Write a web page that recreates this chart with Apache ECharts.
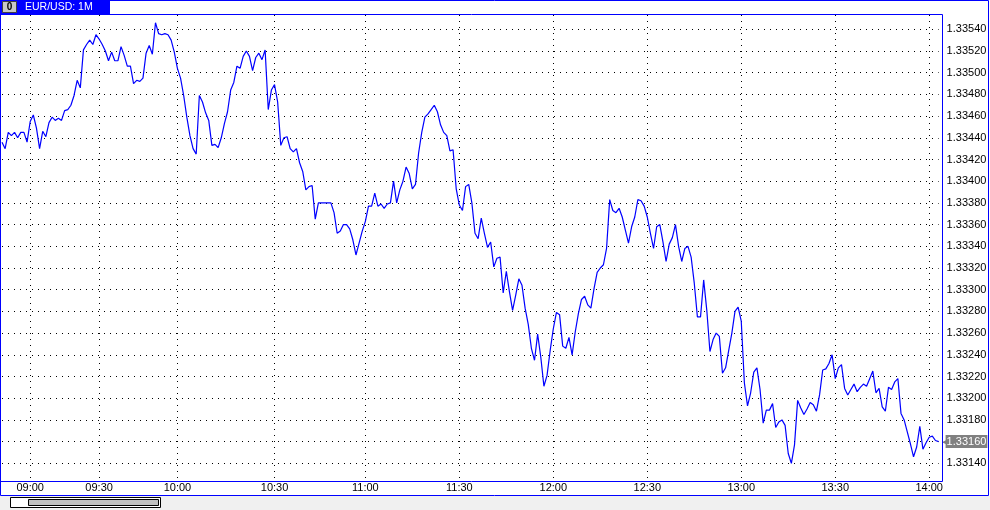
<!DOCTYPE html>
<html>
<head>
<meta charset="utf-8">
<script src="https://cdn.jsdelivr.net/npm/echarts@6.0.0/dist/echarts.min.js"></script>
<style>
  body { margin: 0; background: #fff; }
  #chart { width: 990px; height: 510px; }
</style>
</head>
<body>
<div id="chart"></div>
<script>
const symbolName = "EUR/USD: 1M";

// 1 minute closes, oldest first
const closesTo1000 = [
  1.33436, 1.33430, 1.33445, 1.33442, 1.33445, 1.33440, 1.33445, 1.33445, 1.33436, 1.33455,
  1.33461, 1.33449, 1.33430, 1.33446, 1.33441, 1.33454, 1.33459, 1.33456, 1.33458, 1.33456,
  1.33465, 1.33466, 1.33470, 1.33479, 1.33493, 1.33486, 1.33521, 1.33526, 1.33530, 1.33526,
  1.33535, 1.33531, 1.33526, 1.33520, 1.33511, 1.33519, 1.33511, 1.33511, 1.33524, 1.33516,
  1.33506, 1.33506, 1.33490, 1.33493, 1.33492, 1.33495, 1.33518, 1.33525, 1.33517, 1.33546,
  1.33536, 1.33535, 1.33536, 1.33535, 1.33530, 1.33519
];
const closes1000 = [
  1.33504, 1.33495, 1.33479, 1.33459, 1.33442, 1.33430, 1.33425, 1.33479, 1.33473, 1.33463,
  1.33456, 1.33433, 1.33434, 1.33431, 1.33440, 1.33453, 1.33464, 1.33484, 1.33491, 1.33506,
  1.33504, 1.33515, 1.33520, 1.33515, 1.33502, 1.33514, 1.33518, 1.33512, 1.33521, 1.33466,
  1.33484, 1.33489, 1.33473, 1.33433, 1.33440, 1.33441, 1.33430, 1.33427, 1.33430, 1.33417,
  1.33409, 1.33392, 1.33395, 1.33396, 1.33365, 1.33380, 1.33380, 1.33380, 1.33380, 1.33380,
  1.33371, 1.33352, 1.33354, 1.33360, 1.33360, 1.33356, 1.33346, 1.33332, 1.33343, 1.33354
];
const closes1100 = [
  1.33363, 1.33377, 1.33377, 1.33389, 1.33377, 1.33379, 1.33375, 1.33379, 1.33380, 1.33400,
  1.33380, 1.33392, 1.33400, 1.33413, 1.33407, 1.33393, 1.33397, 1.33426, 1.33445, 1.33459,
  1.33462, 1.33466, 1.33470, 1.33464, 1.33452, 1.33445, 1.33442, 1.33428, 1.33429, 1.33393,
  1.33378, 1.33373, 1.33395, 1.33397, 1.33380, 1.33352, 1.33347, 1.33366, 1.33352, 1.33339,
  1.33344, 1.33321, 1.33329, 1.33330, 1.33297, 1.33317, 1.33298, 1.33281, 1.33295, 1.33310,
  1.33304, 1.33283, 1.33268, 1.33246, 1.33235, 1.33259, 1.33238, 1.33211, 1.33221, 1.33244
];
const closes1200 = [
  1.33264, 1.33279, 1.33277, 1.33248, 1.33246, 1.33256, 1.33240, 1.33261, 1.33278, 1.33291,
  1.33294, 1.33286, 1.33283, 1.33301, 1.33316, 1.33320, 1.33323, 1.33338, 1.33383, 1.33373,
  1.33371, 1.33375, 1.33367, 1.33355, 1.33343, 1.33358, 1.33367, 1.33383, 1.33382, 1.33377,
  1.33367, 1.33352, 1.33338, 1.33358, 1.33360, 1.33344, 1.33326, 1.33342, 1.33348, 1.33360,
  1.33340, 1.33326, 1.33338, 1.33340, 1.33330, 1.33306, 1.33275, 1.33275, 1.33309, 1.33281,
  1.33243, 1.33254, 1.33260, 1.33257, 1.33223, 1.33228, 1.33244, 1.33260, 1.33280, 1.33284
];
const closes1300 = [
  1.33271, 1.33214, 1.33193, 1.33205, 1.33224, 1.33228, 1.33208, 1.33177, 1.33189, 1.33189,
  1.33195, 1.33173, 1.33178, 1.33180, 1.33175, 1.33149, 1.33140, 1.33157, 1.33198, 1.33191,
  1.33185, 1.33190, 1.33196, 1.33194, 1.33188, 1.33203, 1.33226, 1.33227, 1.33232, 1.33240,
  1.33218, 1.33228, 1.33231, 1.33209, 1.33203, 1.33208, 1.33213, 1.33206, 1.33210, 1.33213,
  1.33211, 1.33218, 1.33225, 1.33205, 1.33209, 1.33192, 1.33188, 1.33210, 1.33208, 1.33215,
  1.33218, 1.33186, 1.33180, 1.33169, 1.33158, 1.33146, 1.33155, 1.33174, 1.33153, 1.33159,
  1.33164, 1.33165, 1.33161, 1.33160
];

// bar index of each labelled time on the axis
const tickIndex = [9, 31, 56, 87, 116, 146, 176, 206, 236, 266, 296];
const tickText = ["09:00", "09:30", "10:00", "10:30", "11:00", "11:30", "12:00", "12:30", "13:00", "13:30", "14:00"];

const priceMin = 1.3312, priceMax = 1.3356, priceStep = 0.0002;

const closes = [].concat(closesTo1000, closes1000, closes1100, closes1200, closes1300);
const bars = closes.map((_, i) => String(i));
const lastPrice = closes[closes.length - 1];

const blue = "#0000ff";
const fontFamily = '"Liberation Sans", Arial, sans-serif';
const dotted = { color: "#000", width: 1, type: [1, 5] };
const isTick = (i) => tickIndex.includes(i);

const myChart = echarts.init(document.getElementById("chart"));
myChart.setOption({
  animation: false,
  textStyle: { fontFamily },
  grid: [
    { left: 2, right: 51.4, top: 7.6, bottom: 25 },
    { left: 2, right: 51.4, top: 15, bottom: 29 },
  ],
  xAxis: [
    { gridIndex: 0, type: "category", data: bars, boundaryGap: false, show: false },
    {
      gridIndex: 1,
      type: "category",
      data: bars,
      boundaryGap: false,
      axisLine: { show: false },
      axisTick: { show: false },
      axisLabel: {
        interval: (i) => isTick(i),
        formatter: (v) => tickText[tickIndex.indexOf(Number(v))],
        margin: 1,
        fontSize: 11,
        color: "#000",
      },
      splitLine: { show: true, interval: (i) => isTick(i), lineStyle: dotted },
    },
  ],
  yAxis: [
    {
      gridIndex: 0,
      type: "value",
      position: "right",
      min: priceMin,
      max: priceMax,
      interval: priceStep,
      axisLine: { show: false },
      axisTick: { show: false },
      axisLabel: {
        margin: 8,
        fontSize: 11,
        color: "#000",
        showMinLabel: false,
        showMaxLabel: false,
        formatter: (v) => v.toFixed(5),
      },
      splitLine: { show: true, showMinLine: false, showMaxLine: false, lineStyle: dotted },
    },
    { gridIndex: 1, type: "value", show: false },
  ],
  series: [
    {
      name: symbolName,
      type: "line",
      xAxisIndex: 0,
      yAxisIndex: 0,
      data: closes,
      symbol: "none",
      clip: false,
      lineStyle: { color: blue, width: 1.2 },
      // last price tag on the price scale
      endLabel: {
        show: true,
        distance: 3,
        formatter: () => "{arrow|◀}{box|" + lastPrice.toFixed(5) + "}",
        rich: {
          arrow: { color: "#808080", fontSize: 7, padding: [0, -1, 0, 0] },
          box: { backgroundColor: "#808080", color: "#fff", fontSize: 11, padding: [1, 1, 1, 1] },
        },
      },
    },
  ],
  graphic: {
    elements: [
      { type: "rect", z: 100, shape: { x: 0, y: 496, width: 990, height: 14 }, style: { fill: "#f0f0f0" } },
      { type: "rect", z: 101, shape: { x: 0.5, y: 0.5, width: 988, height: 495 }, style: { fill: null, stroke: blue, lineWidth: 1 } },
      { type: "rect", z: 101, shape: { x: 0.5, y: 14.5, width: 942, height: 467 }, style: { fill: null, stroke: blue, lineWidth: 1 } },
      { type: "rect", z: 101, shape: { x: 0, y: 0, width: 110, height: 14 }, style: { fill: blue } },
      { type: "rect", z: 102, shape: { x: 2.5, y: 1.5, width: 14, height: 11 }, style: { fill: "#c8c8c8", stroke: "#404040", lineWidth: 1 } },
      { type: "text", z: 103, style: { x: 9.5, y: 7.5, text: "0", align: "center", verticalAlign: "middle", fill: "#000", font: "bold 10px " + fontFamily } },
      { type: "text", z: 103, style: { x: 25, y: 7.5, text: symbolName, verticalAlign: "middle", fill: "#fff", font: "10.5px " + fontFamily } },
      { type: "rect", z: 102, shape: { x: 10.5, y: 497.5, width: 150, height: 10 }, style: { fill: "#fff", stroke: "#000", lineWidth: 1 } },
      { type: "rect", z: 103, shape: { x: 28.5, y: 499.5, width: 130, height: 6 }, style: { fill: "#c0c0c0", stroke: "#000", lineWidth: 1 } },
    ],
  },
});
</script>
</body>
</html>
